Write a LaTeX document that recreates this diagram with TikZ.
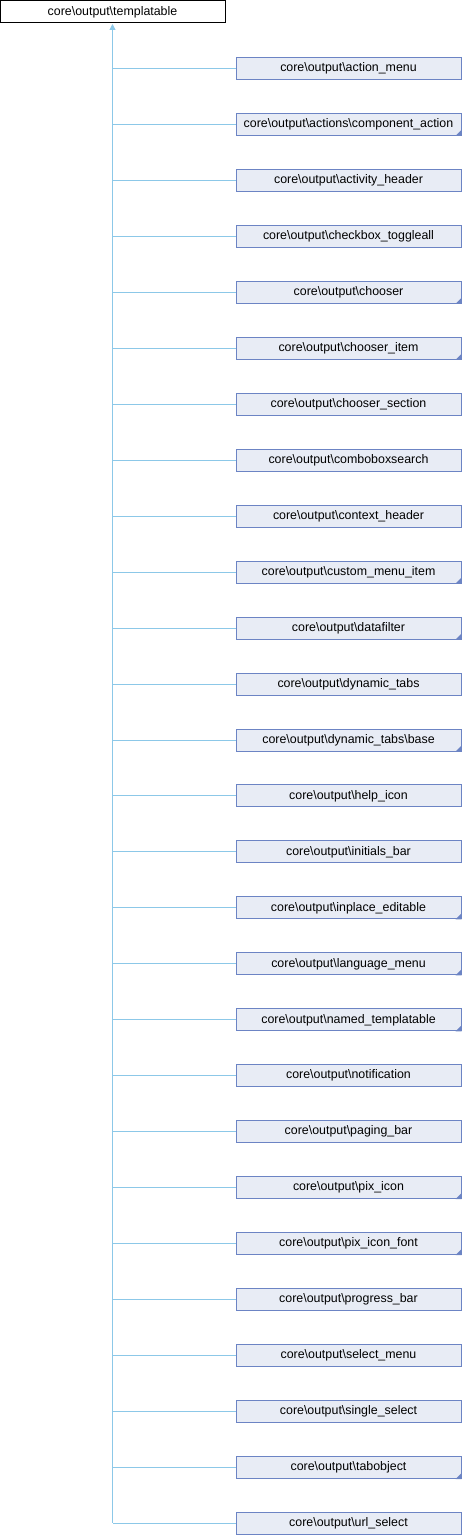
\documentclass[tikz,border=0pt]{standalone}
\usepackage{fontspec}
\setmainfont{Liberation Sans}
\usetikzlibrary{arrows.meta}
\definecolor{edgecol}{RGB}{140,200,232}
\definecolor{boxfill}{RGB}{232,236,245}
\definecolor{boxdraw}{RGB}{108,132,196}
\tikzset{
  rootbox/.style={draw=black, fill=white, line width=1pt, minimum width=225pt, minimum height=22pt, inner sep=0pt, font=\fontsize{12.4}{14}\selectfont},
  childbox/.style={draw=boxdraw, fill=boxfill, line width=1pt, minimum width=225pt, minimum height=22pt, inner sep=0pt, font=\fontsize{12.4}{14}\selectfont},
  edgeline/.style={draw=edgecol, line width=1pt},
  marktri/.style={fill=boxdraw}
}
\begin{document}
\begin{tikzpicture}[x=1pt,y=-1pt]
\useasboundingbox (0,0) rectangle (462,1536);
\node[rootbox] (top) at (112.5,12) {core\textbackslash output\textbackslash templatable};
\foreach \i/\nm/\tri in {
 0/action\_menu/0,
 1/actions\textbackslash component\_action/1,
 2/activity\_header/0,
 3/checkbox\_toggleall/0,
 4/chooser/1,
 5/chooser\_item/1,
 6/chooser\_section/0,
 7/comboboxsearch/0,
 8/context\_header/0,
 9/custom\_menu\_item/1,
 10/datafilter/1,
 11/dynamic\_tabs/0,
 12/dynamic\_tabs\textbackslash base/1,
 13/help\_icon/0,
 14/initials\_bar/0,
 15/inplace\_editable/1,
 16/language\_menu/1,
 17/named\_templatable/1,
 18/notification/0,
 19/paging\_bar/0,
 20/pix\_icon/1,
 21/pix\_icon\_font/1,
 22/progress\_bar/0,
 23/select\_menu/0,
 24/single\_select/0,
 25/tabobject/1,
 26/url\_select/0}{
  \node[childbox] (n\i) at (348.5,{68.5+55.96*\i}) {core\textbackslash output\textbackslash \nm};
  \ifnum\tri=1
    \fill[marktri] ([xshift=-6pt]n\i.south east) -- (n\i.south east) -- ([yshift=6pt]n\i.south east) -- cycle;
  \fi
  \draw[edgeline] (n\i.west) -- (n\i.west -| top.south);
}
\draw[edgeline, {Triangle[width=6pt,length=6pt,fill=edgecol]}-] ([yshift=-0.5pt]top.south) -- (top.south |- n26.west);
\end{tikzpicture}
\end{document}
